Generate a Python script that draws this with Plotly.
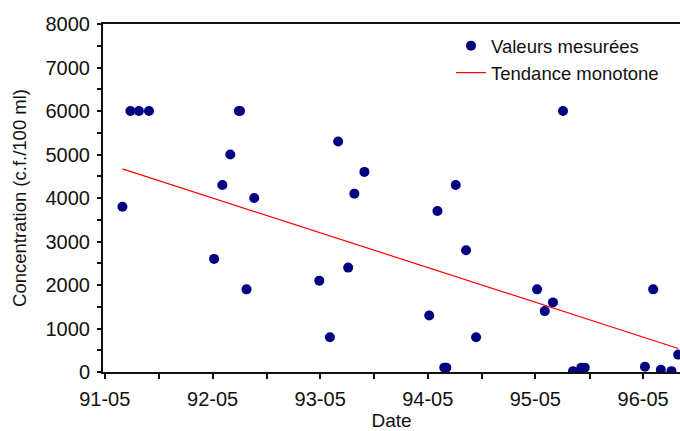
import plotly.graph_objects as go

# Measured values (date, concentration c.f./100 ml)
dates = [
    "1991-06-30", "1991-07-27", "1991-08-25", "1991-09-28",
    "1992-05-06", "1992-06-03", "1992-06-30", "1992-07-29", "1992-08-02",
    "1992-08-24", "1992-09-19",
    "1993-04-28", "1993-06-03", "1993-07-01", "1993-08-04", "1993-08-25",
    "1993-09-28",
    "1994-05-06", "1994-06-03", "1994-06-26", "1994-07-03", "1994-08-04",
    "1994-09-08", "1994-10-12",
    "1995-05-07", "1995-06-02", "1995-06-30", "1995-08-03", "1995-09-06",
    "1995-10-04", "1995-10-16",
    "1996-05-07", "1996-06-04", "1996-06-30", "1996-08-05", "1996-08-28",
]
values = [
    3800, 6000, 6000, 6000,
    2600, 4300, 5000, 6000, 6000,
    1900, 4000,
    2100, 800, 5300, 2400, 4100,
    4600,
    1300, 3700, 100, 100, 4300,
    2800, 800,
    1900, 1400, 1600, 6000, 20,
    100, 100,
    120, 1900, 50, 20, 400,
]

# Monotone trend (Sen slope) end points
trend_dates = ["1991-06-30", "1996-08-28"]
trend_values = [4670, 540]

legend_names = ["Valeurs mesurées", "Tendance monotone"]

font_family = "Liberation Sans, Arial, sans-serif"
axis_color = "#111"

fig = go.Figure()
fig.add_trace(go.Scatter(
    x=dates, y=values, mode="markers", name=legend_names[0],
    marker=dict(color="#000080", size=10),
))
fig.add_trace(go.Scatter(
    x=trend_dates, y=trend_values, mode="lines", name=legend_names[1],
    line=dict(color="#ff0000", width=1.2),
))

fig.update_layout(
    width=680, height=431,
    margin=dict(l=103, r=0, t=24, b=59),
    paper_bgcolor="white", plot_bgcolor="white",
    font=dict(family=font_family, size=18.5, color=axis_color),
    showlegend=True,
    legend=dict(
        x=0.6031, y=0.991, xanchor="left", yanchor="top",
        bgcolor="rgba(0,0,0,0)", font=dict(size=18.5, color=axis_color),
    ),
)

fig.update_xaxes(
    type="date",
    range=["1991-04-25", "1996-09-03"],
    tick0="1991-05-01", dtick="M12", tickformat="%y-%m",
    ticks="outside", ticklen=5, tickwidth=1.5, tickcolor=axis_color,
    minor=dict(ticks="outside", ticklen=5, tick0="1991-05-01", dtick="M6",
               tickcolor=axis_color, tickwidth=1.5),
    showline=True, linecolor=axis_color, linewidth=2, mirror=True,
    showgrid=False, zeroline=False,
    tickfont=dict(size=20, family=font_family, color=axis_color),
    ticklabelstandoff=3,
    title=dict(text="Date", font=dict(size=19, family=font_family), standoff=5),
)
fig.update_yaxes(
    range=[0, 8000], dtick=1000, tick0=0,
    ticks="outside", ticklen=4, tickwidth=1.5, tickcolor=axis_color,
    minor=dict(ticks="outside", ticklen=4, dtick=500, tickcolor=axis_color, tickwidth=1.5),
    showline=True, linecolor=axis_color, linewidth=2, mirror=False,
    showgrid=False, zeroline=False,
    tickfont=dict(size=20, family=font_family, color=axis_color),
    ticklabelstandoff=3,
    title=dict(text="Concentration (c.f./100 ml)", font=dict(size=18.5, family=font_family), standoff=14),
)

fig.write_html("out.html", config={"displayModeBar": False},
               post_script="document.body.style.margin='0px';")
